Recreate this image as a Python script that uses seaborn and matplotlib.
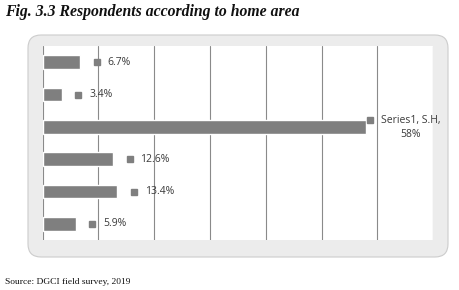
import numpy as np
import pandas as pd
import matplotlib
matplotlib.use("Agg")
import matplotlib.pyplot as plt
import seaborn as sns
from matplotlib.patches import FancyBboxPatch

# data (top to bottom)
areas = ["Area 1", "Area 2", "S.H", "Area 4", "Area 5", "Area 6"]
shares = [6.7, 3.4, 58, 12.6, 13.4, 5.9]
labels = ["6.7%", "3.4%", "58%", "12.6%", "13.4%", "5.9%"]

title = "Fig. 3.3 Respondents according to home area"
source = "Source: DGCI field survey, 2019"

bar_col = "#7f7f7f"
txt_col = "#3a3a3a"

df = pd.DataFrame({"area": areas, "share": shares})

sns.set_theme(style="white")
plt.rcParams["font.family"] = ["Open Sans", "DejaVu Sans"]

fig = plt.figure(figsize=(4.6, 2.9), dpi=100)
fig.patch.set_facecolor("white")

# rounded grey frame behind the plot
frame = FancyBboxPatch((0.28, 0.33), 4.20, 2.22,
                       boxstyle="round,pad=0,rounding_size=0.13",
                       transform=fig.dpi_scale_trans,
                       facecolor="#ececec", edgecolor="#cccccc", linewidth=0.8,
                       zorder=-5)
fig.patches.append(frame)

ax = fig.add_axes([42.7 / 460, 1 - 240 / 290, 390.5 / 460, 194 / 290])
ax.set_zorder(1)
ax.set_facecolor("white")

sns.barplot(data=df, x="share", y="area", orient="h", color=bar_col,
            saturation=1, width=0.43, ax=ax, zorder=2)

ax.set_xlim(0, 70)
ax.set_ylim(5.5, -0.5)
ax.set_xticks(np.arange(0, 71, 10))
ax.grid(axis="x", color="#8a8a8a", linewidth=0.8)
ax.grid(axis="y", visible=False)
ax.set_axisbelow(True)
ax.tick_params(left=False, bottom=False, labelleft=False, labelbottom=False)
for s in ax.spines.values():
    s.set_visible(False)
ax.set_xlabel("")
ax.set_ylabel("")

for i, (v, lab) in enumerate(zip(shares, labels)):
    if v > 50:
        ax.plot(v + 0.6, i - 0.2, marker="s", markersize=4.5, color=bar_col,
                clip_on=False, zorder=3)
        ax.text(66.0, i - 0.2, "Series1, " + areas[i] + ",", ha="center",
                va="center", fontsize=7.5, color=txt_col, clip_on=False)
        ax.text(66.0, i + 0.24, lab, ha="center", va="center", fontsize=7.5,
                color=txt_col, clip_on=False)
    else:
        ax.plot(v + 3.0, i, marker="s", markersize=4.5, color=bar_col,
                clip_on=False, zorder=3)
        ax.text(v + 4.9, i, lab, ha="left", va="center", fontsize=7.5,
                color=txt_col)

fig.text(5 / 460, 1 - 12 / 290, title, ha="left", va="center",
         fontsize=11.3, fontweight="bold", fontstyle="italic",
         family="Liberation Serif", color="#111111")
fig.text(5 / 460, 1 - 282 / 290, source, ha="left", va="center",
         fontsize=6.8, family="Liberation Serif", color="#111111")

fig.savefig("out.png", dpi=100, facecolor="white")
